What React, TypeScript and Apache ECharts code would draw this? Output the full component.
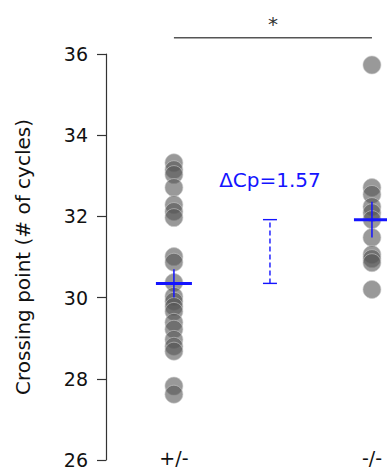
import React, { useEffect, useRef } from "react";
import * as echarts from "echarts";

const groupLabels = ["+/-", "-/-"];
const groupPos = [1, 2];
const group1Values = [33.32, 33.15, 33.03, 32.71, 32.29, 32.12, 31.97, 31.01, 30.87, 30.37, 30.03, 29.91, 29.78, 29.66, 29.39, 29.22, 28.97, 28.8, 28.68, 27.82, 27.62];
const group2Values = [35.73, 32.71, 32.54, 32.24, 32.09, 31.92, 31.48, 31.06, 30.96, 30.86, 30.2];
const groupMeans = [30.35, 31.92];
const groupSem = [0.35, 0.44];
const deltaLabel = "ΔCp=1.57";
const deltaX = 1.485;
const sigLabel = "*";
const sigY = 36.4;
const yTicks = [26, 28, 30, 32, 34, 36];

const FONT = "'DejaVu Sans', sans-serif";
const FS = 20;
const FS_TICK = 19;
const BLUE = "#1414ff";

export default function App() {
  const ref = useRef<HTMLDivElement>(null);
  useEffect(() => {
    document.body.style.margin = "0";
    const chart = echarts.init(ref.current!, null, { renderer: "svg" });
    const scatterData = [
      ...group1Values.map((v) => [groupPos[0], v]),
      ...group2Values.map((v) => [groupPos[1], v]),
    ];
    chart.setOption({
      animation: false,
      grid: { left: 106, right: 0, top: 54, bottom: 10 },
      xAxis: {
        type: "value",
        min: 0.657,
        max: 2.076,
        axisLine: { show: false },
        axisTick: { show: false },
        splitLine: { show: false },
        axisLabel: {
          customValues: groupPos,
          formatter: (v: number) => groupLabels[Math.round(v) - 1] ?? "",
          fontSize: FS_TICK,
          color: "#111",
          fontFamily: FONT,
          margin: -12,
        },
      },
      yAxis: {
        type: "value",
        min: yTicks[0],
        max: yTicks[yTicks.length - 1],
        interval: 2,
        name: "Crossing point (# of cycles)",
        nameLocation: "middle",
        nameGap: 73,
        nameTextStyle: { fontSize: FS, color: "#111", fontFamily: FONT },
        axisLine: { show: true, lineStyle: { color: "#333", width: 1.2 } },
        axisTick: { show: true, length: 9, lineStyle: { color: "#333", width: 1.2 } },
        splitLine: { show: false },
        axisLabel: { fontSize: FS_TICK, color: "#111", fontFamily: FONT, margin: 18 },
      },
      series: [
        {
          type: "scatter",
          data: scatterData,
          symbolSize: 18,
          itemStyle: { color: "#555", opacity: 0.6, borderColor: "#ccc", borderWidth: 1 },
          z: 2,
        },
        {
          type: "custom",
          z: 5,
          data: groupPos.map((p, i) => [p, groupMeans[i], groupSem[i]]),
          renderItem: (params: any, api: any) => {
            const x = api.value(0);
            const m = api.value(1);
            const s = api.value(2);
            const c = api.coord([x, m]);
            const top = api.coord([x, m + s]);
            const bot = api.coord([x, m - s]);
            return {
              type: "group",
              children: [
                { type: "line", shape: { x1: c[0] - 18, y1: c[1], x2: c[0] + 18, y2: c[1] }, style: { stroke: BLUE, lineWidth: 3 } },
                { type: "line", shape: { x1: c[0], y1: top[1], x2: c[0], y2: bot[1] }, style: { stroke: BLUE, lineWidth: 1.5 } },
              ],
            };
          },
        },
        {
          type: "custom",
          z: 5,
          data: [[deltaX, groupMeans[0], groupMeans[1]]],
          renderItem: (params: any, api: any) => {
            const x = api.value(0);
            const a = api.coord([x, api.value(1)]);
            const b = api.coord([x, api.value(2)]);
            return {
              type: "group",
              children: [
                { type: "line", shape: { x1: a[0], y1: a[1], x2: b[0], y2: b[1] }, style: { stroke: BLUE, lineWidth: 1.4, lineDash: [5, 3] } },
                { type: "line", shape: { x1: a[0] - 7, y1: a[1], x2: a[0] + 7, y2: a[1] }, style: { stroke: BLUE, lineWidth: 1.4 } },
                { type: "line", shape: { x1: b[0] - 7, y1: b[1], x2: b[0] + 7, y2: b[1] }, style: { stroke: BLUE, lineWidth: 1.4 } },
                { type: "text", x: b[0], y: b[1] - 40, style: { text: deltaLabel, fill: BLUE, fontSize: FS, fontFamily: FONT, align: "center", verticalAlign: "middle" } },
              ],
            };
          },
        },
        {
          type: "custom",
          z: 5,
          data: [[groupPos[0], groupPos[1], sigY]],
          renderItem: (params: any, api: any) => {
            const a = api.coord([api.value(0), api.value(2)]);
            const b = api.coord([api.value(1), api.value(2)]);
            return {
              type: "group",
              children: [
                { type: "line", shape: { x1: a[0], y1: a[1], x2: b[0], y2: b[1] }, style: { stroke: "#555", lineWidth: 1.5 } },
                { type: "text", x: (a[0] + b[0]) / 2, y: a[1] - 14, style: { text: sigLabel, fill: "#333", fontSize: FS, fontFamily: FONT, align: "center", verticalAlign: "middle" } },
              ],
            };
          },
        },
      ],
    });
    return () => chart.dispose();
  }, []);
  return <div ref={ref} style={{ width: 387, height: 470 }} />;
}
